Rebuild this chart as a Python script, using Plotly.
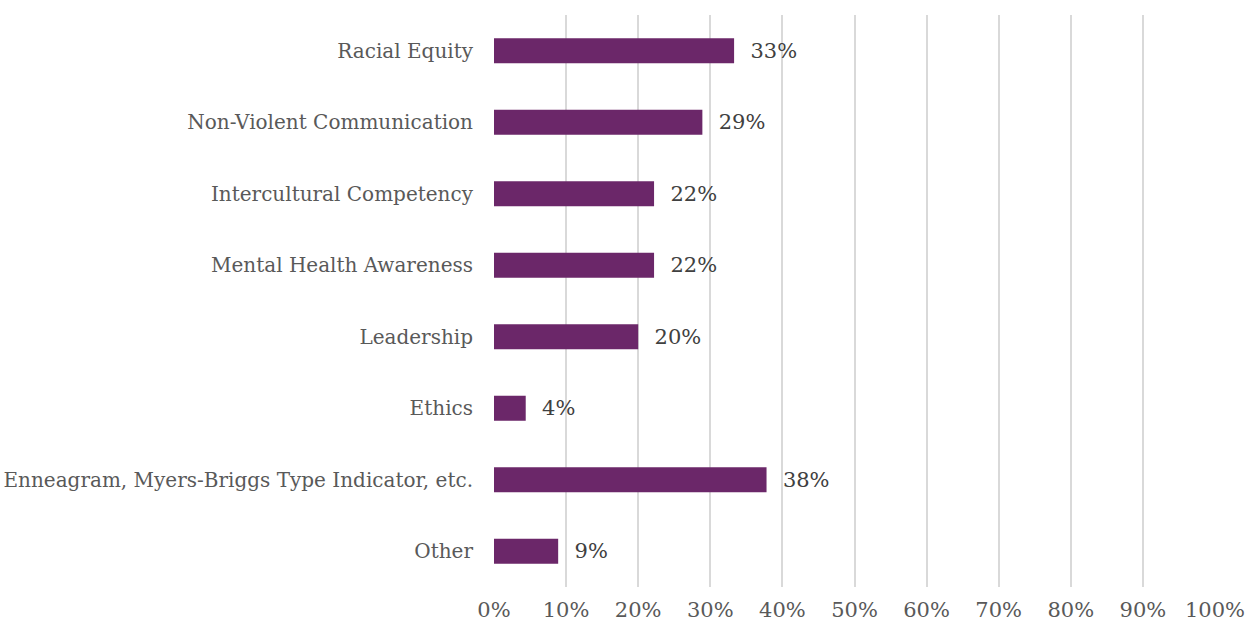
import plotly.graph_objects as go

# Share of respondents (n = 45) reporting each training type
categories = [
    "Racial Equity",
    "Non-Violent Communication",
    "Intercultural Competency",
    "Mental Health Awareness",
    "Leadership",
    "Ethics",
    "Enneagram, Myers-Briggs Type Indicator, etc.",
    "Other",
]
shares = [0.333, 0.289, 0.222, 0.222, 0.200, 0.044, 0.378, 0.089]

tick_vals = [i / 10 for i in range(11)]
tick_text = [f"{i * 10}%" for i in range(11)]

font_family = "DejaVu Serif"
text_grey = "#595959"

fig = go.Figure(
    go.Bar(
        x=shares,
        y=categories,
        orientation="h",
        marker=dict(color="#6B2769", line=dict(width=0)),
        texttemplate="\u00a0\u00a0%{x:.0%}",
        textposition="outside",
        textfont=dict(family=font_family, size=21, color="#404040"),
        cliponaxis=False,
    )
)

fig.update_layout(
    width=1247,
    height=626,
    margin=dict(l=494, r=32, t=15, b=39),
    plot_bgcolor="white",
    paper_bgcolor="white",
    bargap=0.65,
    showlegend=False,
    font=dict(family=font_family, size=20, color=text_grey),
    xaxis=dict(
        range=[0, 1],
        tickvals=tick_vals,
        ticktext=tick_text,
        showgrid=True,
        gridcolor="#d9d9d9",
        gridwidth=2,
        zeroline=False,
        showline=False,
        ticks="",
        ticklabelstandoff=8,
        automargin=False,
        tickfont=dict(family=font_family, size=21, color=text_grey),
    ),
    yaxis=dict(
        categoryorder="array",
        categoryarray=categories[::-1],
        showgrid=False,
        zeroline=False,
        showline=False,
        ticks="",
        ticklabelstandoff=20,
        automargin=False,
        tickfont=dict(family=font_family, size=20, color=text_grey),
    ),
)

fig.write_html("out.html")
